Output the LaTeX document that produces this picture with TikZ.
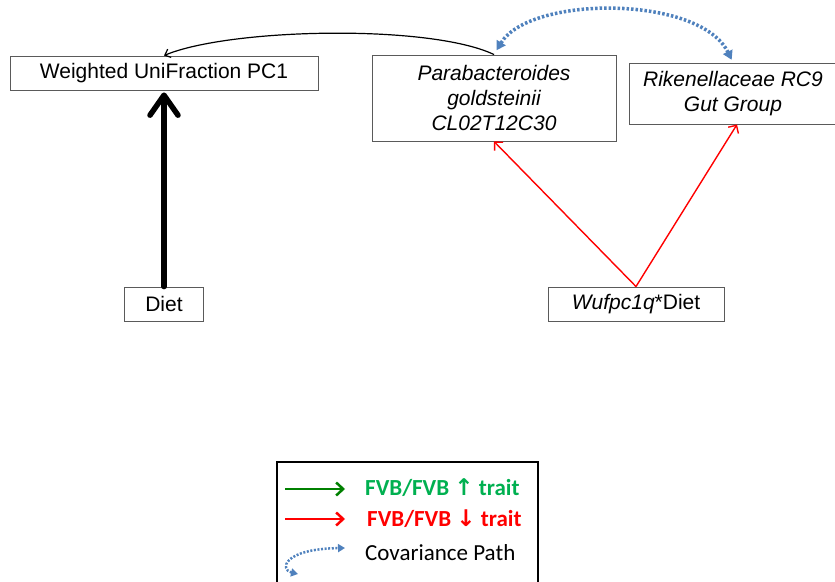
\documentclass[tikz,border=0pt]{standalone}
\usepackage{fontspec}
\setmainfont{Liberation Sans}
\newfontfamily\legfont{Carlito}
\newfontfamily\symfont{DejaVu Sans}
\usetikzlibrary{arrows.meta}
\definecolor{covblue}{RGB}{79,129,189}
\definecolor{txtgreen}{RGB}{0,176,80}
\definecolor{arrgreen}{RGB}{0,128,0}
\definecolor{boxgray}{RGB}{90,90,90}
\begin{document}
\begin{tikzpicture}[x=1bp,y=-1bp,
  box/.style={draw=boxgray, line width=0.9bp, inner sep=0pt, align=center,
    font=\fontsize{21bp}{25bp}\selectfont},
  redarrow/.style={draw=red, line width=1.4bp, -{Straight Barb[length=6bp,width=12bp]}},
  covarrow/.style={draw=covblue, line width=3.5bp, dash pattern=on 2.5bp off 2bp,
    {Triangle[length=9bp,width=10bp]}-{Triangle[length=9bp,width=10bp]}},
  legarrow/.style={line width=2.5bp, -{Straight Barb[length=7bp,width=13bp]}},
  legtext/.style={anchor=west, inner sep=0pt, font=\legfont\fontsize{23bp}{27bp}\selectfont}]
\useasboundingbox (0,0) rectangle (835,582);
\clip (0,0) rectangle (835,582);
% nodes
\node[box, minimum width=308bp, minimum height=34bp] (wu) at (164,73) {Weighted UniFraction PC1};
\node[box, minimum width=244bp, minimum height=86bp] (para) at (494,98)
  {\itshape Parabacteroides\\\itshape goldsteinii\\\itshape CL02T12C30};
\node[box, minimum width=208bp, minimum height=61bp] (rik) at (733,93.5)
  {\itshape Rikenellaceae RC9\\\itshape Gut Group};
\node[box, minimum width=79bp, minimum height=34bp] (diet) at (164,304) {Diet};
\node[box, minimum width=176bp, minimum height=34bp] (wuf) at (636,304) {\textit{Wufpc1q}*Diet};
% connectors
\draw[line width=5.5bp, line join=round, line cap=round,
  -{Straight Barb[length=20bp,width=28bp,round]}] (diet.north) -- ([yshift=-2bp]wu.south);
\draw[line width=1.2bp, -{Straight Barb[length=5bp,width=9bp]}]
  (para.north) .. controls (430,24) and (230,28) .. (wu.north);
\draw[covarrow, shorten <=5bp, shorten >=3bp]
  (para.north) .. controls (530,-5) and (700,-5) .. (rik.north);
\draw[redarrow] (wuf.north) -- (para.south);
\draw[redarrow] (wuf.north) -- ([xshift=4bp]rik.south);
% legend
\node[draw=black, line width=1.5bp, minimum width=261bp, minimum height=125bp, inner sep=0pt]
  (leg) at (407.5,524.5) {};
\coordinate (g1) at (285,489);
\coordinate (g2) at (345,489);
\coordinate (r1) at (285,519);
\coordinate (r2) at (345,519);
\coordinate (c1) at (298,574);
\coordinate (c2) at (345,548);
\draw[arrgreen, legarrow] (g1) -- (g2);
\draw[red, legarrow] (r1) -- (r2);
\draw[draw=covblue, line width=2.5bp, dash pattern=on 2bp off 1.6bp,
  {Triangle[length=7bp,width=8bp]}-{Triangle[length=7bp,width=8bp]}]
  (c1) .. controls (280,570) and (282,549) .. (c2);
\node[legtext, text=txtgreen] (t1) at (365,488) {\bfseries FVB/FVB {\symfont\bfseries ↑} trait};
\node[legtext, text=red] (t2) at (367,519) {\bfseries FVB/FVB {\symfont\bfseries ↓} trait};
\node[legtext] (t3) at (365,553) {Covariance Path};
\end{tikzpicture}
\end{document}
